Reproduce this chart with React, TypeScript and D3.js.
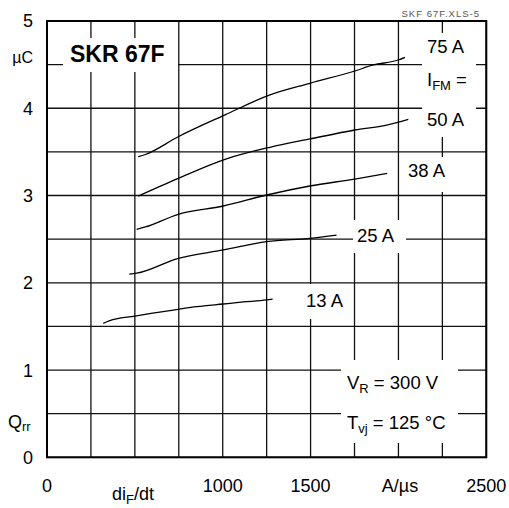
import React from "react";
import * as d3 from "d3";

const W = 509;
const H = 508;

const xGrid = [0, 250, 500, 750, 1000, 1250, 1500, 1750, 2000, 2250, 2500];
const yGrid = [0, 0.5, 1, 1.5, 2, 2.5, 3, 3.5, 4, 4.5, 5];
const xTickLabels = [0, 1000, 1500, 2500];
const yTickLabels = [0, 1, 2, 3, 4, 5];

const dIdt75 = [519, 560, 747, 1013, 1269, 1496, 1752, 1857, 1999, 2037];
const qrr75 = [3.445, 3.47, 3.674, 3.924, 4.153, 4.286, 4.427, 4.496, 4.553, 4.584];
const dIdt50 = [519, 747, 1013, 1269, 1496, 1752, 1933, 2056];
const qrr50 = [2.994, 3.197, 3.415, 3.553, 3.648, 3.751, 3.808, 3.873];
const dIdt38 = [510, 560, 747, 1003, 1250, 1496, 1752, 1936];
const qrr38 = [2.613, 2.64, 2.785, 2.88, 3.006, 3.109, 3.189, 3.254];
const dIdt25 = [468, 510, 747, 1003, 1250, 1496, 1648];
const qrr25 = [2.1, 2.11, 2.28, 2.376, 2.471, 2.51, 2.547];
const dIdt13 = [320, 350, 501, 747, 852, 1003, 1117, 1250, 1284];
const qrr13 = [1.535, 1.56, 1.619, 1.696, 1.726, 1.757, 1.78, 1.803, 1.814];

const series = [
  { xs: dIdt75, ys: qrr75 },
  { xs: dIdt50, ys: qrr50 },
  { xs: dIdt38, ys: qrr38 },
  { xs: dIdt25, ys: qrr25 },
  { xs: dIdt13, ys: qrr13 },
];

const L = 47, T = 21, R = 486.3, B = 457.3;
const FONT = "'Liberation Sans', Arial, sans-serif";

export default function App() {
  const x = d3.scaleLinear().domain([0, 2500]).range([L, R]);
  const y = d3.scaleLinear().domain([0, 5]).range([B, T]);
  const line = d3
    .line<[number, number]>()
    .x((d) => x(d[0]))
    .y((d) => y(d[1]))
    .curve(d3.curveMonotoneX);

  const boxes = [
    { x: 63, y: 38, w: 115, h: 34 },
    { x: 422, y: 33, w: 54, h: 104 },
    { x: 404, y: 157, w: 49, h: 35 },
    { x: 353, y: 220, w: 53, h: 33 },
    { x: 300, y: 284, w: 52, h: 35 },
    { x: 341, y: 360, w: 117, h: 83 },
  ];

  return (
    <svg
      width={W}
      height={H}
      style={{ position: "absolute", left: 0, top: 0, background: "#fff" }}
      fontFamily={FONT}
    >
      <rect x={0} y={0} width={W} height={H} fill="#fff" />
      {xGrid.map((v) => (
        <line key={"gx" + v} x1={x(v)} x2={x(v)} y1={T} y2={B} stroke="#111" strokeWidth={1.3} />
      ))}
      {yGrid.map((v) => (
        <line key={"gy" + v} x1={L} x2={R} y1={y(v)} y2={y(v)} stroke="#111" strokeWidth={1.3} />
      ))}
      {boxes.map((b, i) => (
        <rect key={"b" + i} x={b.x} y={b.y} width={b.w} height={b.h} fill="#fff" />
      ))}
      <rect x={L} y={T} width={R - L} height={B - T} fill="none" stroke="#000" strokeWidth={2} />
      {series.map((s, i) => (
        <path
          key={"s" + i}
          d={line(s.xs.map((v, j) => [v, s.ys[j]] as [number, number])) || ""}
          fill="none"
          stroke="#000"
          strokeWidth={1.3}
        />
      ))}
      {yTickLabels.map((v) => (
        <text key={"yl" + v} x={33} y={y(v)} dy="0.36em" textAnchor="end" fontSize={18}>
          {v}
        </text>
      ))}
      {xTickLabels.map((v) => (
        <text key={"xl" + v} x={x(v)} y={492} textAnchor="middle" fontSize={18}>
          {v}
        </text>
      ))}
      <text x={33} y={63} textAnchor="end" fontSize={16}>µC</text>
      <text x={8} y={428} fontSize={18}>
        Q<tspan fontSize={13} dy={3}>rr</tspan>
      </text>
      <text x={112} y={500} fontSize={18}>
        di<tspan fontSize={13} dy={4}>F</tspan>
        <tspan dy={-4}>/dt</tspan>
      </text>
      <text x={400} y={492} textAnchor="middle" fontSize={18}>A/µs</text>
      <text x={70} y={62} fontSize={23} fontWeight="bold">SKR 67F</text>
      <text x={480} y={17} textAnchor="end" fontSize={9.5} fill="#555" letterSpacing={1}>SKF 67F.XLS-5</text>
      <text x={427} y={53} fontSize={18.5}>75 A</text>
      <text x={427} y={86} fontSize={18.5}>
        I<tspan fontSize={13} dy={4}>FM</tspan>
        <tspan dy={-4}> =</tspan>
      </text>
      <text x={427} y={126} fontSize={18.5}>50 A</text>
      <text x={408} y={177} fontSize={18.5}>38 A</text>
      <text x={357} y={242} fontSize={18.5}>25 A</text>
      <text x={306} y={307} fontSize={18.5}>13 A</text>
      <text x={347} y={389} fontSize={18.5}>
        V<tspan fontSize={13} dy={4}>R</tspan>
        <tspan dy={-4}> = 300 V</tspan>
      </text>
      <text x={347} y={429} fontSize={18.5}>
        T<tspan fontSize={13} dy={4}>vj</tspan>
        <tspan dy={-4}> = 125 °C</tspan>
      </text>
    </svg>
  );
}
